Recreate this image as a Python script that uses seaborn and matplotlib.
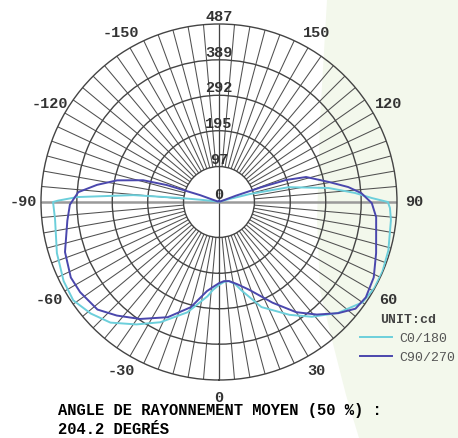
import numpy as np
import pandas as pd
import matplotlib
matplotlib.use("Agg")
import matplotlib.pyplot as plt
import seaborn as sns
from matplotlib.patches import Polygon
from matplotlib.lines import Line2D

# C0/180 plane, angle in degrees (0 = down, + = right), intensity in cd
c0_angles = [-180, -110, -100, -97, -95.9, -94.6, -92, -90.5, -90, -84, -72.5, -63, -56, -49,
             -42, -34, -26, -16, -7, -3.9, 0, 3.6, 7, 11, 14.5, 22, 32, 39, 47, 55, 61, 67, 74,
             84, 88, 90, 91.5, 93.8, 97.3, 102, 104.5, 107, 112, 180]
c0_cd = [3, 3, 15, 50, 107, 235, 388, 440, 454, 451, 465, 477, 481, 465,
         444, 404, 366, 314, 260, 241, 227, 219, 218, 228, 251, 310, 364, 404, 445, 479, 486, 486, 482,
         473, 468, 462, 418, 373, 302, 195, 87, 20, 3, 3]

# C90/270 plane
c90_angles = [-180, -113, -110, -108, -106, -102, -98, -94, -89, -83, -72, -63, -57, -48.5,
              -42, -34, -24, -15, -7.7, -4, 0, 3.6, 7.2, 12.4, 19, 28, 35, 41, 47, 52, 57, 64, 72,
              84.5, 89.6, 93.6, 96.6, 100.3, 106, 108.2, 109.2, 110.5, 113, 180]
c90_cd = [3, 3, 55, 150, 216, 285, 337, 386, 408, 418, 443, 455, 453, 444,
          418, 386, 345, 298, 246, 233, 222, 217, 218, 230, 254, 312, 368, 408, 446, 474, 479, 471, 452,
          432, 418, 390, 356, 306, 248, 193, 124, 50, 3, 3]

series_names = ["C0/180", "C90/270"]
series_colors = ["#6ccfdb", "#4a47ad"]
rings = [97, 195, 292, 389, 487]
ring_labels = [0, 97, 195, 292, 389, 487]
angle_labels = [0, 30, 60, 90, 120, 150, -150, -120, -90, -60, -30]

mono = ["Liberation Mono", "DejaVu Sans Mono"]

df = pd.concat([
    pd.DataFrame({"theta": np.deg2rad(c0_angles), "cd": c0_cd, "plane": series_names[0]}),
    pd.DataFrame({"theta": np.deg2rad(c90_angles), "cd": c90_cd, "plane": series_names[1]}),
], ignore_index=True)

fig = plt.figure(figsize=(4.58, 4.38), dpi=100)
fig.patch.set_facecolor("white")

# light green backdrop on the right
fig.patches.append(Polygon(
    [(327 / 458, 1), (320 / 458, 1 - 120 / 438), (317 / 458, 1 - 220 / 438), (320 / 458, 1 - 290 / 438),
     (332 / 458, 1 - 340 / 438), (346 / 458, 1 - 395 / 438), (359 / 458, 0), (1, 0), (1, 1)],
    closed=True, transform=fig.transFigure, facecolor="#f3f8ec", edgecolor="none", zorder=-5))

ax = fig.add_axes([0.0895, 0.1324, 0.7773, 0.8128], projection="polar")
ax.set_zorder(1)
ax.set_facecolor("none")
ax.set_theta_zero_location("S")
ax.set_theta_direction(1)

# grid
ax.set_xticks([])
ax.set_yticks(rings[:-1])
ax.set_yticklabels([])
ax.xaxis.grid(False)
ax.yaxis.grid(True, color="#444444", lw=1.0)
spokes = np.deg2rad(np.arange(0, 360, 5))
ax.vlines(spokes, 97, 487, colors="#505050", lw=0.75, zorder=1)
ax.vlines([0, np.pi], 0, 487, colors="#444444", lw=0.9, zorder=1)
ax.vlines([np.pi / 2, -np.pi / 2], 0, 487, colors="#9a9a9a", lw=1.8, zorder=1)
ax.spines["polar"].set_color("#444444")
ax.spines["polar"].set_linewidth(1.0)

sns.lineplot(data=df, x="theta", y="cd", hue="plane", palette=series_colors, sort=False,
             estimator=None, legend=False, lw=1.4, ax=ax, zorder=3)
ax.set_ylim(0, 487)
ax.set_xlabel("")
ax.set_ylabel("")

for r in ring_labels:
    ax.text(np.pi, r, str(r), ha="center", va="bottom", family=mono, fontsize=11,
            fontweight="bold", color="#333333", zorder=4)
for a in angle_labels:
    ax.text(np.deg2rad(a), 535, str(a), ha="center", va="center", family=mono, fontsize=11,
            fontweight="bold", color="#333333", clip_on=False)

handles = [Line2D([], [], color=c, lw=1.4) for c in series_colors]
leg = ax.legend(handles, series_names, title="UNIT:cd", loc="upper left",
                bbox_to_anchor=(360 / 458, 1 - 314 / 438), bbox_transform=fig.transFigure,
                frameon=False, borderpad=0, borderaxespad=0, handlelength=2.4,
                handletextpad=0.6, labelspacing=0.5,
                prop={"family": mono, "size": 9.5})
for t in leg.get_texts():
    t.set_color("#555555")
leg.get_title().set_fontproperties({"family": mono, "size": 9.5, "weight": "bold"})
leg.get_title().set_color("#444444")

fig.text(58 / 458, 1 - 411 / 438, "ANGLE DE RAYONNEMENT MOYEN (50 %) :", family=mono,
         fontsize=11.2, fontweight="bold", va="center", ha="left", color="black")
fig.text(58 / 458, 1 - 429 / 438, "204.2 DEGRÉS", family=mono,
         fontsize=11.2, fontweight="bold", va="center", ha="left", color="black")

fig.savefig("out.png", dpi=100)
